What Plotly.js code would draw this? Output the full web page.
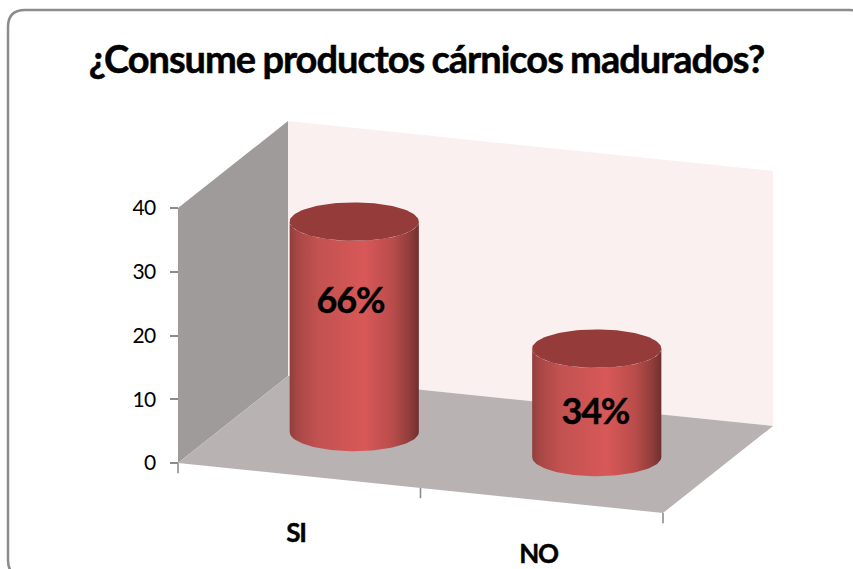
<!DOCTYPE html>
<html>
<head>
<meta charset="utf-8">
<script src="https://cdn.plot.ly/plotly-3.0.1.min.js"></script>
<style>
  html, body { margin: 0; padding: 0; background: #fff; }
  #chart { width: 853px; height: 569px; }
  .gtitle { letter-spacing: -1px; word-spacing: -1px; stroke: #000; stroke-width: 0.5px; }
  .textpoint text { letter-spacing: -1.2px; stroke: #000; stroke-width: 0.4px; }
  .ytick text { letter-spacing: -0.5px; }
</style>
</head>
<body>
<div id="chart"></div>
<script>
// Survey answers
const categories = ['SI', 'NO'];
const counts = [33, 17];
const tickValues = [0, 10, 20, 30, 40];
const axisMax = 40;

// Height of the percentage label inside each cylinder, in axis units
const labelHeights = [20.1, 6.6];
const labelShift = [-0.016, -0.006];
// Height of each category name below the floor's front edge, in axis units
const nameHeights = [-9.4, -8.8];

// Colours
const backWallColor = '#fbf0f0';
const sideWallColor = '#a09b9b';
const floorColor = '#b9b2b3';
const capColor = '#953b39';
const axisColor = '#8c8c8c';
const sideShading = [
  [0, '#8f3f3d'], [0.06, '#a84745'], [0.22, '#c25250'],
  [0.58, '#d85858'], [0.8, '#b84c4a'], [0.93, '#8f3d3b'], [1, '#6f2f2e']
];

// Oblique projection: u runs along the categories, d goes into the depth
// of the box (0 front, 1 back), v is the value on the vertical axis.
const W = 853, H = 569;
const originX = 178, originY = 463, unitY = 6.375, unitU = 242.5;
const depthX = 110, depthY = 87, slopeY = 25;
function project(u, d, v) {
  return [
    u + d * depthX / unitU,
    v - u * slopeY / unitY + d * depthY / unitY
  ];
}
function polygon(corners) {
  const pts = corners.map(c => project(c[0], c[1], c[2]));
  return { x: pts.map(p => p[0]), y: pts.map(p => p[1]) };
}
function surface(corners, color) {
  const p = polygon(corners.concat([corners[0]]));
  return { type: 'scatter', mode: 'lines', x: p.x, y: p.y, fill: 'toself',
           fillcolor: color, line: { width: 0, color: color }, hoverinfo: 'skip' };
}

const rx = 64.6 / unitU, ry = 19.2 / unitY;
function cylinderTraces(i) {
  const base = project(i + 0.5, 0.5, 0);
  const top = project(i + 0.5, 0.5, counts[i]);
  const sx = [], sy = [], cx = [], cy = [];
  for (let k = 0; k <= 60; k++) {            // lower rim, left to right
    const a = Math.PI * k / 60;
    sx.push(base[0] - rx * Math.cos(a));
    sy.push(base[1] - ry * Math.sin(a));
  }
  for (let k = 0; k <= 60; k++) {            // upper rim, front arc, right to left
    const a = Math.PI * k / 60;
    sx.push(top[0] + rx * Math.cos(a));
    sy.push(top[1] - ry * Math.sin(a));
  }
  sx.push(sx[0]); sy.push(sy[0]);
  for (let k = 0; k <= 120; k++) {           // cap ellipse
    const a = 2 * Math.PI * k / 120;
    cx.push(top[0] + rx * Math.cos(a));
    cy.push(top[1] + ry * Math.sin(a));
  }
  return [
    { type: 'scatter', mode: 'lines', x: sx, y: sy, fill: 'toself',
      fillgradient: { type: 'horizontal', colorscale: sideShading },
      line: { width: 0 }, hoverinfo: 'skip' },
    { type: 'scatter', mode: 'lines', x: cx, y: cy, fill: 'toself',
      fillcolor: capColor, line: { width: 0, color: capColor }, hoverinfo: 'skip' }
  ];
}

const traces = [
  surface([[0, 1, 0], [2, 1, 0], [2, 1, axisMax], [0, 1, axisMax]], backWallColor),
  surface([[0, 0, 0], [0, 1, 0], [0, 1, axisMax], [0, 0, axisMax]], sideWallColor),
  surface([[0, 0, 0], [2, 0, 0], [2, 1, 0], [0, 1, 0]], floorColor)
];

// Category tick marks hang from the front edge of the floor
[0, 1, 2].forEach(u => {
  const p = polygon([[u, 0, 0], [u, 0, -1.6]]);
  traces.push({ type: 'scatter', mode: 'lines', x: p.x, y: p.y,
                line: { color: axisColor, width: 1.6 }, hoverinfo: 'skip' });
});

categories.forEach((c, i) => traces.push(...cylinderTraces(i)));

// Percentage labels derive from the counts
const total = counts.reduce((a, b) => a + b, 0);
const percentPts = categories.map((c, i) => {
  const p = project(i + 0.5, 0.5, labelHeights[i]);
  return [p[0] + labelShift[i], p[1]];
});
traces.push({
  type: 'scatter', mode: 'text',
  x: percentPts.map(p => p[0]), y: percentPts.map(p => p[1]),
  text: counts.map(v => Math.round(v / total * 100) + '%'),
  textposition: 'middle center',
  textfont: { family: 'Lato, Carlito, sans-serif', size: 36, weight: 700, color: '#000' },
  cliponaxis: false, hoverinfo: 'skip'
});

// Category names below the front edge
const namePts = categories.map((c, i) => project(i + 0.5, 0, nameHeights[i]));
traces.push({
  type: 'scatter', mode: 'text',
  x: namePts.map(p => p[0] - 0.013), y: namePts.map(p => p[1]),
  text: categories,
  textposition: 'middle center',
  textfont: { family: 'Lato, Carlito, sans-serif', size: 26, weight: 700, color: '#000' },
  cliponaxis: false, hoverinfo: 'skip'
});

const layout = {
  width: W, height: H,
  margin: { l: 0, r: 0, t: 0, b: 0 },
  paper_bgcolor: '#fff', plot_bgcolor: 'rgba(0,0,0,0)',
  showlegend: false,
  title: {
    text: '¿Consume productos cárnicos madurados?',
    font: { family: 'Lato, Carlito, sans-serif', size: 38, weight: 700, color: '#000' },
    x: 0.5, xanchor: 'center', xref: 'paper',
    y: 1 - 60 / H, yanchor: 'middle', yref: 'container'
  },
  xaxis: {
    domain: [0, 1], range: [-originX / unitU, (W - originX) / unitU],
    visible: false, fixedrange: true
  },
  yaxis: {
    range: [(originY - H) / unitY, originY / unitY],
    anchor: 'free', position: originX / W, side: 'left',
    tickmode: 'array', tickvals: tickValues,
    ticks: 'outside', ticklen: 8, tickwidth: 2, tickcolor: axisColor,
    ticklabelstandoff: 10,
    showline: false, showgrid: false, zeroline: false, fixedrange: true,
    tickfont: { family: 'Lato, Carlito, sans-serif', size: 21, color: '#000' }
  },
  shapes: [{
    // Rounded chart frame, running past the right and bottom page edges
    type: 'path', xref: 'paper', yref: 'paper', layer: 'below',
    path: ['M', 8 / W, (H - 27) / H, 'Q', 8 / W, (H - 10) / H, 25 / W, (H - 10) / H,
           'L', 850 / W, (H - 10) / H, 'Q', 867 / W, (H - 10) / H, 867 / W, (H - 27) / H,
           'L', 867 / W, (H - 560) / H, 'Q', 867 / W, (H - 577) / H, 850 / W, (H - 577) / H,
           'L', 25 / W, (H - 577) / H, 'Q', 8 / W, (H - 577) / H, 8 / W, (H - 560) / H, 'Z'].join(' '),
    line: { color: axisColor, width: 2.5 }
  }]
};

Plotly.newPlot('chart', traces, layout, { displayModeBar: false, staticPlot: true });
</script>
</body>
</html>
